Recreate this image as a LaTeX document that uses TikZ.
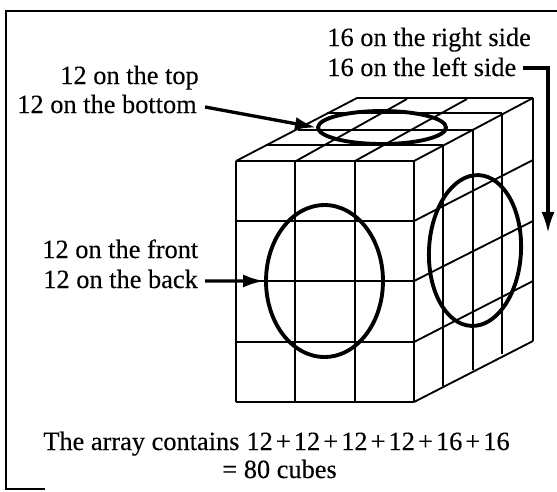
\documentclass[tikz,border=0pt]{standalone}
\usepackage{fontspec}
\setmainfont[FakeBold=0.25]{Liberation Serif}
\usetikzlibrary{arrows.meta,shapes.geometric}
\tikzset{
	grid line/.style={line width=1.05pt},
	ring/.style={draw, ellipse, inner sep=0pt, line width=2.2pt},
	label text/.style={anchor=base west, inner sep=0pt, font=\fontsize{15}{18}\selectfont},
	pointer/.style={-{Latex[length=12pt,width=7.5pt]}, line width=1.9pt},
}

\begin{document}
\begin{tikzpicture}[x=0.02cm, y=-0.02cm, >=Latex]
	
	\useasboundingbox (0,0) rectangle (557,491);
	
	% frame
	\coordinate (frameA) at (45,489);
	\coordinate (frameB) at (6,489);
	\coordinate (frameC) at (6,11);
	\coordinate (frameD) at (557,11);
	\draw[line width=1.1pt] (frameA) -- (frameB) -- (frameC) -- (frameD);
	
	% front face
	\foreach \x in {236,295,355,414}
		\draw[grid line] (\x,161) -- (\x,402);
	\foreach \y in {161,221,281,342,402}
		\draw[grid line] (236,\y) -- (414,\y);
	
	% right face
	\foreach \x/\ytop/\ybot in {443/145/386, 473/130/370, 502/113/354, 533/98/341}
		\draw[grid line] (\x,\ytop) -- (\x,\ybot);
	\foreach \ya/\yb in {161/98, 221/160, 281/221, 342/281, 402/341}
		\draw[grid line] (414,\ya) -- (533,\yb);
	
	% top face
	\draw[grid line] (236,161) -- (357,98) -- (533,98);
	\draw[grid line] (296,161) -- (407,99);
	\draw[grid line] (355,161) -- (467,99);
	\draw[grid line] (266,145) -- (443,145);
	\draw[grid line] (298,130) -- (473,130);
	\draw[grid line] (327,113) -- (502,113);
	
	% rings
	\node[ring, minimum width=2.34cm, minimum height=3.04cm] (frontring) at (324.5,281) {};
	\node[ring, minimum width=1.84cm, minimum height=3.02cm, rotate=-3] (sidering) at (475,250.5) {};
	\node[ring, minimum width=2.56cm, minimum height=0.66cm] (topring) at (382,127.5) {};
	
	% labels
	\node[label text] (rightlabel) at (327,46) {16 on the right side};
	\node[label text] (leftlabel) at (327,76) {16 on the left side};
	\node[label text] (toplabel) at (60,84) {12 on the top};
	\node[label text] (bottomlabel) at (17,113) {12 on the bottom};
	\node[label text] (frontlabel) at (42,258) {12 on the front};
	\node[label text] (backlabel) at (43,288) {12 on the back};
	\node[label text] (totallabel) at (43,450) {The array contains\hspace{4pt}{\spaceskip=1.75pt 12 + 12 + 12 + 12 + 16 + 16}};
	\node[label text] (cubeslabel) at (222,478) {= 80 cubes};
	
	% arrows
	\coordinate (sidetip) at (548,233);
	\draw[pointer] (bottomlabel.east) ++(8,3) -- (topring.west);
	\draw[pointer] (backlabel.east) ++(7,2) -- (frontring.west);
	\draw[pointer] (leftlabel.east) ++(6,1) -| (sidetip);
	
\end{tikzpicture}
\end{document}
